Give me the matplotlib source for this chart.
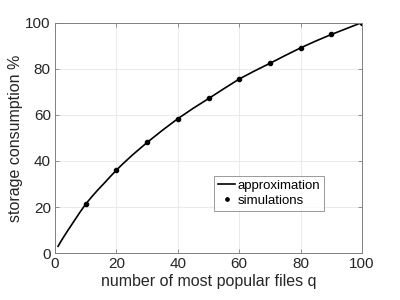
import numpy as np
import matplotlib
matplotlib.use("Agg")
import matplotlib.pyplot as plt

plt.rcParams["font.family"] = ["Liberation Sans", "DejaVu Sans"]

# approximation curve
q_approx = [1, 2, 4, 6, 8, 10, 12, 14, 16, 18, 20, 22, 25, 27, 30, 35, 40, 45, 50,
            55, 60, 65, 70, 75, 80, 85, 90, 95, 100]
y_approx = [3, 5.3, 9.5, 13.5, 17.5, 21.3, 24.5, 27.5, 30.3, 33.2, 36, 38.6, 42.3, 44.6,
            48, 53.3, 58.3, 62.8, 67, 71.3, 75.5, 79, 82.3, 85.7, 89, 92, 94.8, 97.4, 100]

# simulation points
q_sim = [10, 20, 30, 40, 50, 60, 70, 80, 90, 100]
y_sim = [21.4, 36, 48, 58.3, 67.1, 75.5, 82.3, 89, 94.8, 100]

fig = plt.figure(figsize=(4, 3), dpi=100)
ax = fig.add_axes([0.1375, 0.156, 0.7675, 0.769])

ax.plot(q_approx, y_approx, color="black", linewidth=1.2, label="approximation")
ax.plot(q_sim, y_sim, linestyle="none", marker="o", markersize=3.2, markerfacecolor="black",
        markeredgecolor="black", markeredgewidth=0.8, label="simulations")

ax.set_xlim(0, 100)
ax.set_ylim(0, 100)
ax.set_xticks([0, 20, 40, 60, 80, 100])
ax.set_yticks([0, 20, 40, 60, 80, 100])
ax.grid(True, color="#e6e6e6", linewidth=0.6)
ax.set_axisbelow(True)
for s in ax.spines.values():
    s.set_color("#808080")
    s.set_linewidth(0.7)
ax.tick_params(direction="in", top=True, right=True, length=3, width=0.6,
               labelsize=11, color="#808080", labelcolor="#262626", pad=3)

ax.set_xlabel("number of most popular files q", fontsize=11.5, color="#262626", labelpad=2)
ax.set_ylabel("storage consumption %", fontsize=11.5, color="#262626", labelpad=2)

leg = ax.legend(loc="upper left", bbox_to_anchor=(0.518, 0.335), fontsize=9.5, frameon=True,
                fancybox=False, handlelength=1.3, handletextpad=0.2, borderpad=0.3,
                labelspacing=0.2, borderaxespad=0, markerscale=0.8)
leg.get_frame().set_edgecolor("#808080")
leg.get_frame().set_linewidth(0.7)

fig.savefig("out.png", dpi=100)
